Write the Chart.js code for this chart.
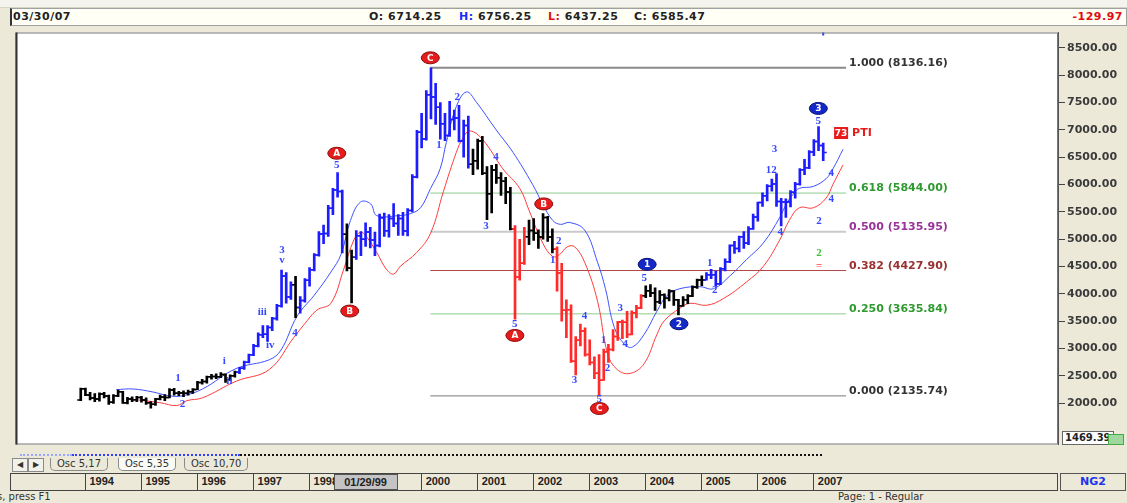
<!DOCTYPE html>
<html>
<head>
<meta charset="utf-8">
<title>Monthly bars 1994-2007</title>
<script src="https://cdn.jsdelivr.net/npm/chart.js@4.4.1/dist/chart.umd.min.js"></script>
<style>
  html, body { margin: 0; padding: 0; }
  body { width: 1127px; height: 503px; position: relative; overflow: hidden; background: #ece9d8; font-family: "DejaVu Sans", sans-serif; }
  .abs { position: absolute; }
  #topstrip { left: 0; top: 0; width: 1127px; height: 7px; background: #f4f3ee; border-bottom: 1px solid #d6d3c6; }
  #info { left: 10px; top: 8px; width: 1114px; height: 16px; background: #fffff6; border: 1px solid #a0a0a0; border-left: 2px solid #333; font: bold 11px "DejaVu Sans", sans-serif; color: #222; letter-spacing: 0.5px; }
  #info span { position: absolute; top: 1px; white-space: nowrap; }
  #chartbox { left: 10px; top: 27px; width: 1117px; height: 423px; }
  #valbox { left: 1062px; top: 431px; width: 48px; height: 12px; background: #fff; border: 1px solid #666; font: bold 10px "DejaVu Sans", sans-serif; color: #222; line-height: 12px; padding-left: 2px; overflow: hidden; }
  #valmark { left: 1108px; top: 434px; width: 14px; height: 9px; background: #9fd89f; border: 1px solid #4a4; }
  .dots { height: 0; top: 454px; }
  #tabs { left: 10px; top: 458px; height: 13px; width: 1048px; font: 10px "DejaVu Sans", sans-serif; color: #333; }
  .tab { position: absolute; top: 0; height: 12px; line-height: 12px; border: 1px solid #8a8a8a; border-top: none; border-radius: 0 0 5px 5px; padding: 0 6px; background: #ece9d8; }
  .btn { position: absolute; top: 0; width: 14px; height: 12px; border: 1px solid #8a8a8a; background: #f2f1ea; font-size: 8px; text-align: center; line-height: 12px; }
  #dates { left: 10px; top: 473px; width: 1046px; height: 16px; border: 1px solid #444; background: #ece9d8; font: bold 11px "Liberation Sans", sans-serif; color: #222; }
  .div { position: absolute; top: 0; width: 1px; height: 16px; background: #444; }
  .yr { position: absolute; top: 1px; }
  #sel { top: 474px; width: 62px; height: 14px; background: #c4c4c4; border: 1px solid #555; font: bold 11px "Liberation Sans", sans-serif; color: #222; text-align: center; line-height: 14px; }
  #ng2 { left: 1060px; top: 473px; width: 64px; height: 16px; border: 1px solid #555; background: #ece9d8; color: #2233ee; font: bold 11px "DejaVu Sans", sans-serif; text-align: center; line-height: 16px; }
  #status { left: 0; top: 491px; width: 1127px; height: 12px; font: 10px "DejaVu Sans", sans-serif; color: #333; }
</style>
</head>
<body>
<div id="topstrip" class="abs"></div>
<div id="info" class="abs">
  <span style="left:1px">03/30/07</span>
  <span style="left:357px">O: 6714.25</span>
  <span style="left:447px"><span style="position:static;color:#1a2cff">H:</span> 6756.25</span>
  <span style="left:536px"><span style="position:static;color:#e01010">L:</span> 6437.25</span>
  <span style="left:622px">C: 6585.47</span>
  <span style="right:3px;color:#e01010">-129.97</span>
</div>
<div id="chartbox" class="abs"><canvas id="priceChart" width="1117" height="423"></canvas></div>
<div id="valbox" class="abs">1469.39</div>
<div id="valmark" class="abs"></div>
<div class="abs dots" style="left:20px;width:52px;border-top:2px dotted #9aa6ff"></div>
<div class="abs dots" style="left:72px;width:168px;border-top:2px dotted #3040ff"></div>
<div class="abs dots" style="left:240px;width:582px;border-top:2px dotted #111"></div>
<div id="tabs" class="abs">
  <div class="btn" style="left:2px">&#9664;</div>
  <div class="btn" style="left:18px">&#9654;</div>
  <div class="tab" style="left:40px">Osc 5,17</div>
  <div class="tab" style="left:108px;background:#fbfbf6">Osc 5,35</div>
  <div class="tab" style="left:174px">Osc 10,70</div>
</div>
<div id="dates" class="abs"></div>
<div id="sel" class="abs">01/29/99</div>
<div id="ng2" class="abs">NG2</div>
<div id="status" class="abs">
  <span style="position:absolute;left:-3px">s, press F1</span>
  <span style="position:absolute;left:838px">Page: 1 - Regular</span>
</div>

<script>
// monthly bars, first bar = Dec 1993
const startYear = 1993;
const startMonth = 12;

const opens = [
  2060, 2267, 2151, 2098, 2080, 2170, 2135, 2020, 2140, 2210, 2010, 2080, 2065,
  2107, 2060, 2010, 1982, 2080, 2115, 2105, 2245, 2185, 2190, 2185, 2210,
  2254, 2380, 2398, 2485, 2490, 2486, 2526, 2434, 2506, 2566, 2640, 2751,
  2889, 3050, 3254, 3262, 3385, 3553, 3785, 4330, 3943, 4168, 3753, 3879,
  4250, 4442, 4710, 5097, 5107, 5568, 5898, 5875, 5092, 4475, 4671, 5064,
  5002, 5134, 4985, 4884, 5395, 5154, 5378, 5290, 5380, 5149, 5525, 6137,
  6958, 6835, 7644, 7599, 7414, 7110, 6898, 7189, 7215, 6798, 7078, 6372,
  6434, 6795, 6208, 5830, 6264, 6123, 6058, 5862, 5188, 4308, 4560, 5045,
  5160, 5108, 5040, 5397, 5041, 4818, 4383, 3700, 3713, 2769, 3153, 3320,
  2893, 2747, 2548, 2424, 2942, 2983, 3221, 3487, 3484, 3257, 3656, 3745,
  3965, 4059, 4018, 3857, 3985, 3921, 4052, 3895, 3785, 3893, 3960, 4126,
  4256, 4255, 4350, 4349, 4185, 4461, 4587, 4887, 4830, 5044, 4929, 5194,
  5408, 5674, 5796, 5971, 6009, 5692, 5683, 5682, 5860, 6004, 6269, 6309,
  6597, 6789, 6714.25
];
const highs = [
  2280, 2280, 2200, 2180, 2190, 2200, 2150, 2160, 2240, 2220, 2110, 2120, 2130,
  2130, 2100, 2030, 2090, 2150, 2160, 2270, 2275, 2220, 2230, 2240, 2270,
  2400, 2440, 2500, 2530, 2540, 2560, 2540, 2520, 2590, 2660, 2770, 2900,
  3080, 3290, 3420, 3420, 3570, 3810, 4438, 4390, 4220, 4320, 3950, 4280,
  4480, 4740, 5140, 5260, 5620, 5930, 6217, 5900, 5280, 4800, 5160, 5140,
  5300, 5220, 5130, 5460, 5480, 5450, 5650, 5450, 5490, 5560, 6180, 6990,
  7300, 7720, 8136.16, 7850, 7500, 7300, 7520, 7360, 7450, 7180, 7250, 6650,
  6830, 6880, 6330, 6350, 6370, 6220, 6130, 5950, 5250, 5000, 5220, 5350,
  5380, 5170, 5470, 5420, 5190, 4860, 4560, 3890, 3800, 3220, 3450, 3380,
  3160, 2850, 2890, 2990, 3080, 3350, 3500, 3520, 3680, 3690, 3790, 3990,
  4150, 4170, 4110, 4060, 4000, 4080, 4060, 3900, 3950, 3990, 4150, 4270,
  4330, 4390, 4450, 4420, 4480, 4640, 4900, 4960, 5060, 5140, 5230, 5460,
  5680, 5850, 6000, 6100, 6200, 5750, 5740, 5890, 6040, 6290, 6460, 6620,
  6820, 7060, 6756.25
];
const lows = [
  2050, 2140, 2060, 2030, 2040, 2100, 1980, 2000, 2120, 2000, 1990, 2030, 2030,
  2020, 1980, 1911, 1960, 2060, 2050, 2100, 2150, 2140, 2120, 2150, 2180,
  2250, 2350, 2370, 2440, 2450, 2470, 2380, 2420, 2480, 2540, 2620, 2740,
  2870, 3030, 3200, 3130, 3330, 3520, 3760, 3830, 3900, 3567, 3650, 3850,
  4140, 4420, 4690, 4920, 5050, 5450, 5770, 4750, 4420, 3834, 4630, 4700,
  4870, 4840, 4700, 4860, 5050, 5040, 5230, 5070, 5070, 5060, 5500, 6120,
  6670, 6810, 7200, 7100, 6830, 6800, 6880, 7000, 6780, 6500, 6300, 6180,
  6280, 6180, 5360, 5480, 6020, 5800, 5650, 5170, 3539, 4250, 4540, 4900,
  4980, 4830, 5000, 4960, 4750, 4050, 3500, 3200, 2750, 2519, 3050, 2860,
  2700, 2450, 2135.74, 2420, 2750, 2960, 3150, 3180, 3200, 3250, 3560, 3730,
  3930, 3950, 3700, 3820, 3740, 3870, 3790, 3618, 3770, 3820, 3950, 4100,
  4150, 4250, 4280, 4140, 4170, 4420, 4570, 4740, 4770, 4830, 4900, 5180,
  5330, 5600, 5700, 5880, 5600, 5243, 5400, 5590, 5750, 5990, 6180, 6290,
  6530, 6620, 6437.25
];
const closes = [
  2267, 2151, 2098, 2080, 2170, 2135, 2020, 2140, 2210, 2010, 2080, 2065, 2107,
  2060, 2010, 1982, 2080, 2115, 2105, 2245, 2185, 2190, 2185, 2210, 2254,
  2380, 2398, 2485, 2490, 2486, 2526, 2434, 2506, 2566, 2640, 2751, 2889,
  3050, 3254, 3262, 3385, 3553, 3785, 4330, 3943, 4168, 3753, 3879, 4250,
  4442, 4710, 5097, 5107, 5568, 5898, 5875, 5092, 4475, 4671, 5064, 5002,
  5134, 4985, 4884, 5395, 5154, 5378, 5290, 5380, 5149, 5525, 6137, 6958,
  6835, 7644, 7599, 7414, 7110, 6898, 7189, 7215, 6798, 7078, 6372, 6434,
  6795, 6208, 5830, 6264, 6123, 6058, 5862, 5188, 4308, 4560, 5045, 5160,
  5108, 5040, 5397, 5041, 4818, 4383, 3700, 3713, 2769, 3153, 3320, 2893,
  2747, 2548, 2424, 2942, 2983, 3221, 3487, 3484, 3257, 3656, 3745, 3965,
  4059, 4018, 3857, 3985, 3921, 4052, 3895, 3785, 3893, 3960, 4126, 4256,
  4255, 4350, 4349, 4185, 4461, 4587, 4887, 4830, 5044, 4929, 5194, 5408,
  5674, 5796, 5971, 6009, 5692, 5683, 5682, 5860, 6004, 6269, 6309, 6597,
  6789, 6715, 6585.47
];

// trend state of the bars, as runs of [state, number of bars]
const trendRuns = [
  ['flat', 34], ['up', 12], ['flat', 1], ['up', 10], ['flat', 2], ['up', 25],
  ['flat', 9], ['down', 3], ['flat', 6], ['down', 19], ['flat', 13], ['up', 26]
];

// the two bands, [decimal year, value]
const upperBand = [
  [1994.55, 2250], [1994.85, 2262], [1995.2, 2208], [1995.5, 2137], [1995.73, 2137],
  [1996.09, 2262], [1996.69, 2636], [1997.28, 2796], [1997.49, 2974], [1997.78, 3597],
  [1998.08, 3972], [1998.38, 4399], [1998.56, 4720], [1998.73, 5343], [1998.91, 5681],
  [1999.09, 5646], [1999.2, 5432], [1999.59, 5432], [1999.8, 5468], [1999.98, 5575],
  [2000.16, 5931], [2000.33, 6287], [2000.44, 6768], [2000.62, 7427], [2000.8, 7694],
  [2000.97, 7516], [2001.33, 7000], [2001.63, 6590], [2001.98, 6002], [2002.16, 5646],
  [2002.34, 5343], [2002.48, 5272], [2002.64, 5307], [2002.91, 5165], [2003.14, 4577],
  [2003.28, 4096], [2003.44, 3384], [2003.62, 3081], [2003.76, 3028], [2003.97, 3259],
  [2004.2, 3686], [2004.38, 3972], [2004.61, 4096], [2004.97, 4132], [2005.21, 4096],
  [2005.5, 4328], [2005.8, 4630], [2006.1, 4933], [2006.39, 5396], [2006.51, 5646],
  [2006.63, 5824], [2006.74, 5931], [2006.99, 5966], [2007.22, 6109], [2007.34, 6287],
  [2007.52, 6643]
];
const lowerBand = [
  [1994.75, 2084], [1995.33, 2012], [1995.63, 1959], [1995.81, 2048], [1996.09, 2101],
  [1996.69, 2404], [1997.28, 2618], [1997.72, 3206], [1997.9, 3437], [1998.13, 3704],
  [1998.38, 3829], [1998.61, 4452], [1998.79, 4986], [1998.91, 5129], [1999.02, 5040],
  [1999.2, 4755], [1999.37, 4452], [1999.5, 4363], [1999.62, 4506], [1999.91, 4755],
  [2000.16, 5111], [2000.39, 5877], [2000.62, 6590], [2000.74, 6857], [2000.86, 6982],
  [2001.09, 6821], [2001.45, 6287], [2001.75, 5931], [2001.92, 5521], [2002.16, 4933],
  [2002.34, 4684], [2002.46, 4719], [2002.6, 4862], [2002.73, 4862], [2002.91, 4577],
  [2003.14, 3865], [2003.32, 2903], [2003.49, 2618], [2003.72, 2547], [2003.97, 2725],
  [2004.2, 3259], [2004.33, 3508], [2004.61, 3740], [2004.79, 3829], [2005.09, 3793],
  [2005.39, 3918], [2005.8, 4221], [2006.1, 4506], [2006.39, 4986], [2006.56, 5343],
  [2006.74, 5575], [2006.99, 5575], [2007.22, 5753], [2007.34, 6002], [2007.52, 6358]
];

// retracement levels between the 2000 high and the 2003 low
const fibRatios = ['1.000', '0.618', '0.500', '0.382', '0.250', '0.000'];
const fibValues = [8136.16, 5844.00, 5135.95, 4427.90, 3635.84, 2135.74];
const fibFrom = 2000.155;
const fibTo = 2007.575;

// wave counts: [decimal year, value, text, kind]
const waveLabels = [
  [1995.651, 2463, '1', 'wave'], [1995.734, 1977, '2', 'wave'], [1996.48, 2778, 'i', 'wave'],
  [1996.569, 2404, 'ii', 'wave'], [1997.155, 3669, 'iii', 'wave'], [1997.297, 3063, 'iv', 'wave'],
  [1997.51, 4809, '3', 'wave'], [1997.51, 4613, 'v', 'wave'], [1997.74, 3277, '4', 'wave'],
  [1998.486, 6358, '5', 'wave'],
  [2000.31, 6714, '1', 'wave'], [2000.634, 7605, '2', 'wave'], [2001.149, 5236, '3', 'wave'],
  [2001.327, 6501, '4', 'wave'], [2001.664, 3455, '5', 'wave'],
  [2002.339, 4613, '1', 'wave'], [2002.445, 4969, '2', 'wave'], [2002.729, 2422, '3', 'wave'],
  [2002.906, 3598, '4', 'wave'], [2003.172, 2084, '5', 'wave'],
  [2003.244, 3152, '1', 'wave'], [2003.315, 2636, '2', 'wave'], [2003.546, 3740, '3', 'wave'],
  [2003.635, 3081, '4', 'wave'], [2003.972, 4292, '5', 'wave'],
  [2005.14, 4559, '1', 'wave'], [2005.23, 4061, '2', 'wave'], [2006.297, 6643, '3', 'wave'],
  [2006.24, 6269, '12', 'wave'], [2006.4, 5129, '4', 'wave'], [2007.08, 7160, '5', 'wave'],
  [2007.31, 6216, '4', 'wave'], [2007.31, 5735, '4', 'wave'], [2007.093, 5325, '2', 'wave'],
  [2007.093, 4737, '2', 'alt'], [2007.093, 4506, '=', 'stop']
];
// degree markers: [decimal year, value, text, kind]
const degreeMarks = [
  [1998.486, 6572, 'A', 'red'], [1998.717, 3687, 'B', 'red'], [2000.155, 8317, 'C', 'red'],
  [2001.664, 3241, 'A', 'red'], [2002.179, 5646, 'B', 'red'], [2003.172, 1905, 'C', 'red'],
  [2004.025, 4541, '1', 'blue'], [2004.593, 3455, '2', 'blue'], [2007.08, 7392, '3', 'blue']
];
const ptiMark = [2007.486, 6942, '73', 'PTI'];

const yTickValues = [2000, 2500, 3000, 3500, 4000, 4500, 5000, 5500, 6000, 6500, 7000, 7500, 8000, 8500];
const yearLabels = [1994, 1995, 1996, 1997, 1998, 1999, 2000, 2001, 2002, 2003, 2004, 2005, 2006, 2007];

const trendColors = { flat: '#000000', up: '#1c1cff', down: '#ff2a2a' };
const fibLineColors = ['#8a8a8a', '#8ccc8c', '#cacaca', '#b04848', '#8ccc8c', '#7a7a7a'];
const fibTextColors = ['#333333', '#2f9a2f', '#993399', '#9a3030', '#2f9a2f', '#333333'];
const labelColors = { wave: '#3548ff', alt: '#3cc03c', stop: '#ff4040' };

function barYear(i) {
  const m = startMonth - 1 + i;
  return startYear + Math.floor(m / 12) + (m % 12) / 12;
}

const barColors = [];
trendRuns.forEach(([state, n]) => {
  for (let k = 0; k < n; k++) barColors.push(trendColors[state]);
});

const rangeData = highs.map((h, i) => ({ x: barYear(i), y: [lows[i], h] }));
const openData = opens.map((o, i) => ({ x: barYear(i) - 0.036, y: o }));
const closeData = closes.map((c, i) => ({ x: barYear(i) + 0.036, y: c }));

const fibSets = fibValues.map((v, k) => ({
  type: 'line',
  data: [{ x: fibFrom, y: v }, { x: fibTo, y: v }],
  borderColor: fibLineColors[k],
  borderWidth: k === 0 || k === 2 ? 2 : 1,
  pointRadius: 0,
  order: 5
}));

const overlay = {
  id: 'overlay',
  beforeDraw(chart) {
    const { ctx, chartArea: a } = chart;
    ctx.save();
    ctx.fillStyle = '#ffffff';
    ctx.fillRect(a.left, a.top, a.right - a.left, a.bottom - a.top);
    ctx.restore();
  },
  afterDatasetsDraw(chart) {
    const { ctx, chartArea: a, scales: { x, y } } = chart;
    ctx.save();

    // retracement texts
    ctx.font = 'bold 11px "DejaVu Sans"';
    ctx.textAlign = 'left';
    ctx.textBaseline = 'alphabetic';
    fibValues.forEach((v, k) => {
      ctx.fillStyle = fibTextColors[k];
      ctx.fillText(fibRatios[k] + ' (' + v.toFixed(2) + ')', x.getPixelForValue(fibTo) + 3, y.getPixelForValue(v) - 2);
    });

    // wave counts
    ctx.font = 'bold 11px "Liberation Serif"';
    ctx.textAlign = 'center';
    ctx.textBaseline = 'middle';
    waveLabels.forEach(([yr, v, t, kind]) => {
      ctx.fillStyle = labelColors[kind];
      ctx.fillText(t, x.getPixelForValue(yr), y.getPixelForValue(v));
    });

    // degree markers
    degreeMarks.forEach(([yr, v, t, kind]) => {
      const px = x.getPixelForValue(yr), py = y.getPixelForValue(v);
      ctx.beginPath();
      ctx.ellipse(px, py, 9, 6, 0, 0, Math.PI * 2);
      ctx.fillStyle = kind === 'red' ? '#e41c1c' : '#1427c8';
      ctx.fill();
      ctx.lineWidth = 1;
      ctx.strokeStyle = kind === 'red' ? '#8a0c0c' : '#0a1470';
      ctx.stroke();
      ctx.fillStyle = '#ffffff';
      ctx.font = 'bold 9px "DejaVu Sans"';
      ctx.fillText(t, px, py + 0.5);
    });

    // PTI box
    const [pyr, pv, num, txt] = ptiMark;
    const bx = x.getPixelForValue(pyr), by = y.getPixelForValue(pv);
    ctx.fillStyle = '#e81a1a';
    ctx.fillRect(bx - 7, by - 6, 14, 12);
    ctx.fillStyle = '#ffffff';
    ctx.font = 'bold 9px "DejaVu Sans"';
    ctx.fillText(num, bx, by + 0.5);
    ctx.fillStyle = '#e81a1a';
    ctx.font = 'bold 11px "DejaVu Sans"';
    ctx.textAlign = 'left';
    ctx.fillText(txt, bx + 11, by + 0.5);

    // last bar marker on the top border
    ctx.fillStyle = '#2a3cff';
    ctx.fillRect(x.getPixelForValue(barYear(closes.length - 1)) - 1, a.top, 2, 3);

    // plot frame
    ctx.strokeStyle = '#777';
    ctx.lineWidth = 1;
    ctx.strokeRect(a.left + 0.5, a.top + 0.5, a.right - a.left - 1, a.bottom - a.top - 1);
    ctx.fillStyle = '#333';
    ctx.fillRect(a.left, a.top, 2, a.bottom - a.top);
    ctx.restore();
  }
};

const chart = new Chart(document.getElementById('priceChart').getContext('2d'), {
  type: 'bar',
  data: {
    datasets: [
      {
        type: 'bar',
        data: rangeData,
        backgroundColor: barColors,
        borderWidth: 0,
        barThickness: 2,
        grouped: false,
        order: 1
      },
      {
        type: 'line',
        data: openData,
        showLine: false,
        pointStyle: 'line',
        pointRadius: 1.5,
        pointBorderWidth: 1.5,
        pointBorderColor: barColors,
        order: 1
      },
      {
        type: 'line',
        data: closeData,
        showLine: false,
        pointStyle: 'line',
        pointRadius: 1.5,
        pointBorderWidth: 1.5,
        pointBorderColor: barColors,
        order: 1
      },
      {
        type: 'line',
        data: upperBand.map(([x, y]) => ({ x, y })),
        borderColor: '#3f52ff',
        borderWidth: 1,
        pointRadius: 0,
        tension: 0.4,
        order: 3
      },
      {
        type: 'line',
        data: lowerBand.map(([x, y]) => ({ x, y })),
        borderColor: '#ff3c3c',
        borderWidth: 1,
        pointRadius: 0,
        tension: 0.4,
        order: 3
      },
      ...fibSets
    ]
  },
  options: {
    responsive: false,
    animation: false,
    events: [],
    layout: { padding: 0 },
    plugins: { legend: { display: false }, tooltip: { enabled: false } },
    scales: {
      x: {
        type: 'linear',
        min: 1992.752,
        max: 2011.357,
        offset: false,
        display: false
      },
      y: {
        type: 'linear',
        position: 'right',
        min: 1247,
        max: 8780,
        grid: { drawOnChartArea: false, tickLength: 7, color: '#444' },
        border: { color: '#555' },
        ticks: {
          padding: 2,
          color: '#3a3a3a',
          font: { family: 'DejaVu Sans', size: 11, weight: 'bold' },
          callback: v => v.toFixed(2)
        },
        afterBuildTicks(scale) {
          scale.ticks = yTickValues.map(v => ({ value: v }));
        },
        afterFit(scale) {
          scale.width = 69;
          scale.paddingTop = 0;
          scale.paddingBottom = 0;
        }
      }
    }
  },
  plugins: [overlay]
});

// date strip under the chart, aligned with the x scale
const dates = document.getElementById('dates');
const xs = chart.scales.x;
yearLabels.forEach(yr => {
  const px = xs.getPixelForValue(yr);
  const d = document.createElement('div');
  d.className = 'div';
  d.style.left = (px - 1.5) + 'px';
  dates.appendChild(d);
  const t = document.createElement('div');
  t.className = 'yr';
  t.style.left = (px + 3) + 'px';
  t.textContent = yr;
  dates.appendChild(t);
});
const sel = document.getElementById('sel');
sel.style.left = (10 + xs.getPixelForValue(1999) - 32) + 'px';
</script>
</body>
</html>
